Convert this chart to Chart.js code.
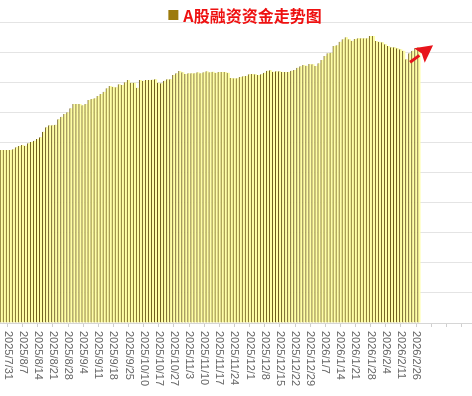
<!DOCTYPE html>
<html>
<head>
<meta charset="utf-8">
<script src="https://cdn.jsdelivr.net/npm/chart.js@4.4.1/dist/chart.umd.min.js"></script>
<style>
  html, body { margin: 0; padding: 0; background: #fff; }
  #wrap { width: 472px; height: 396px; }
</style>
</head>
<body>
<div id="wrap"><canvas id="myChart"></canvas></div>
<script>
// series name (drawn as the legend at the top)
var seriesName = "A股融资资金走势图";
// dates written under the x-axis, one every 5 trading days (first one is the 3rd bar)
var tickDates = ["2025/7/31", "2025/8/7", "2025/8/14", "2025/8/21", "2025/8/28",
  "2025/9/4", "2025/9/11", "2025/9/18", "2025/9/25", "2025/10/10", "2025/10/17",
  "2025/10/27", "2025/11/3", "2025/11/10", "2025/11/17", "2025/11/24", "2025/12/1",
  "2025/12/8", "2025/12/15", "2025/12/22", "2025/12/29", "2026/1/7", "2026/1/14",
  "2026/1/21", "2026/1/28", "2026/2/4", "2026/2/11", "2026/2/26"];
// daily financing balance (100M yuan)
var financing = [
  17240, 17240, 17240, 17240, 17310, 17510, 17640, 17740, 17670, 17910,
  18040, 18170, 18340, 18510, 19070, 19510, 19700, 19700, 19760, 20300,
  20560, 20830, 21000, 21400, 21830, 21830, 21830, 21700, 21830, 22230,
  22330, 22400, 22620, 22820, 23050, 23390, 23620, 23550, 23490, 23790,
  23720, 23990, 24220, 23950, 23950, 23450, 24220, 24150, 24220, 24220,
  24250, 24290, 23950, 23890, 24150, 24290, 24290, 24720, 24890, 25120,
  24990, 24820, 24890, 24890, 24890, 24990, 24890, 24990, 25090, 24990,
  25050, 24950, 25020, 25020, 25020, 24950, 24420, 24390, 24390, 24520,
  24590, 24620, 24790, 24820, 24790, 24720, 24790, 24950, 25150, 25190,
  25050, 25090, 25090, 25020, 25020, 25020, 25150, 25220, 25450, 25590,
  25710, 25640, 25810, 25780, 25610, 25880, 26210, 26610, 26880, 26940,
  27610, 27680, 28040, 28280, 28480, 28280, 28140, 28310, 28380, 28380,
  28380, 28380, 28610, 28610, 28110, 28040, 27980, 27780, 27610, 27480,
  27480, 27380, 27280, 27140, 26280, 26880, 27140, 27380, 27480
];

var slots = 156;      // the axis leaves room for more days on the right
var firstTick = 2;
var tickEvery = 5;

var labels = [];
for (var i = 0; i < slots; i++) {
  var k = (i - firstTick) / tickEvery;
  labels.push(k >= 0 && k % 1 === 0 && k < tickDates.length ? tickDates[k] : "");
}

// legend square + red title text
var legendTitle = {
  id: "legendTitle",
  afterDraw: function (chart) {
    var ctx = chart.ctx;
    ctx.save();
    ctx.font = "bold 16px 'Noto Sans CJK SC'";
    var tw = ctx.measureText(seriesName).width;
    var x0 = chart.width / 2 - (15 + tw) / 2 + 9;
    ctx.fillStyle = "#9c7a0c";
    ctx.fillRect(x0, 10, 10, 10);
    ctx.fillStyle = "#ee1111";
    ctx.textBaseline = "middle";
    ctx.fillText(seriesName, x0 + 15, 16);
    ctx.restore();
  }
};

// x labels rotated clockwise, reading top to bottom
var dateTicks = {
  id: "dateTicks",
  afterDraw: function (chart) {
    var ctx = chart.ctx, xs = chart.scales.x;
    ctx.save();
    ctx.font = "11px 'Liberation Sans', Arial";
    ctx.fillStyle = "#666";
    ctx.textAlign = "left";
    ctx.textBaseline = "middle";
    labels.forEach(function (t, i) {
      if (!t) return;
      ctx.save();
      ctx.translate(xs.getPixelForValue(i), xs.bottom + 4);
      ctx.rotate(Math.PI / 2);
      ctx.fillText(t, 0, 0);
      ctx.restore();
    });
    ctx.restore();
  }
};

// red arrow next to the last bar
var trendArrow = {
  id: "trendArrow",
  afterDraw: function (chart) {
    var ctx = chart.ctx;
    var n = financing.length - 1;
    var lx = chart.scales.x.getPixelForValue(n);
    var ly = chart.scales.y.getPixelForValue(financing[n]);
    var tail = [lx - 9, ly + 15], tip = [lx + 14, ly - 2];
    var dx = tip[0] - tail[0], dy = tip[1] - tail[1];
    var len = Math.sqrt(dx * dx + dy * dy);
    var ux = dx / len, uy = dy / len;
    var bx = tip[0] - ux * 17, by = tip[1] - uy * 17;
    ctx.save();
    ctx.strokeStyle = "#e8141c";
    ctx.fillStyle = "#e8141c";
    ctx.lineWidth = 3;
    ctx.beginPath();
    ctx.moveTo(tail[0], tail[1]);
    ctx.lineTo(bx, by);
    ctx.stroke();
    ctx.beginPath();
    ctx.moveTo(tip[0], tip[1]);
    ctx.lineTo(bx - uy * 9, by + ux * 9);
    ctx.lineTo(bx + ux * 3, by + uy * 3);
    ctx.lineTo(bx + uy * 9, by - ux * 9);
    ctx.closePath();
    ctx.fill();
    ctx.restore();
  }
};

var ctx = document.getElementById("myChart");
var myChart = new Chart(ctx, {
  type: "bar",
  data: {
    labels: labels,
    datasets: [{
      label: seriesName,
      data: financing,
      backgroundColor: "#ffffa6",
      borderColor: "#6e5c1a",
      borderWidth: { left: 1, top: 0, right: 0, bottom: 0 },
      borderSkipped: false,
      barPercentage: 1,
      categoryPercentage: 1
    }]
  },
  options: {
    responsive: true,
    maintainAspectRatio: false,
    animation: false,
    layout: { padding: { top: 22, bottom: 69, left: 0, right: 0 } },
    plugins: {
      legend: { display: false },
      tooltip: { enabled: false }
    },
    scales: {
      x: {
        ticks: { display: false },
        grid: {
          drawOnChartArea: false,
          offset: false,
          tickLength: 4,
          tickColor: function (c) {
            return (c.index - firstTick) % tickEvery === 0 ? "#cfcfcf" : "rgba(0,0,0,0)";
          }
        },
        border: { color: "#d6d6d6" }
      },
      y: {
        min: 0,
        max: 30000,
        ticks: { display: false, stepSize: 3000 },
        grid: { color: "#e4e4e4", drawTicks: false },
        border: { display: false }
      }
    }
  },
  plugins: [legendTitle, dateTicks, trendArrow]
});
</script>
</body>
</html>
